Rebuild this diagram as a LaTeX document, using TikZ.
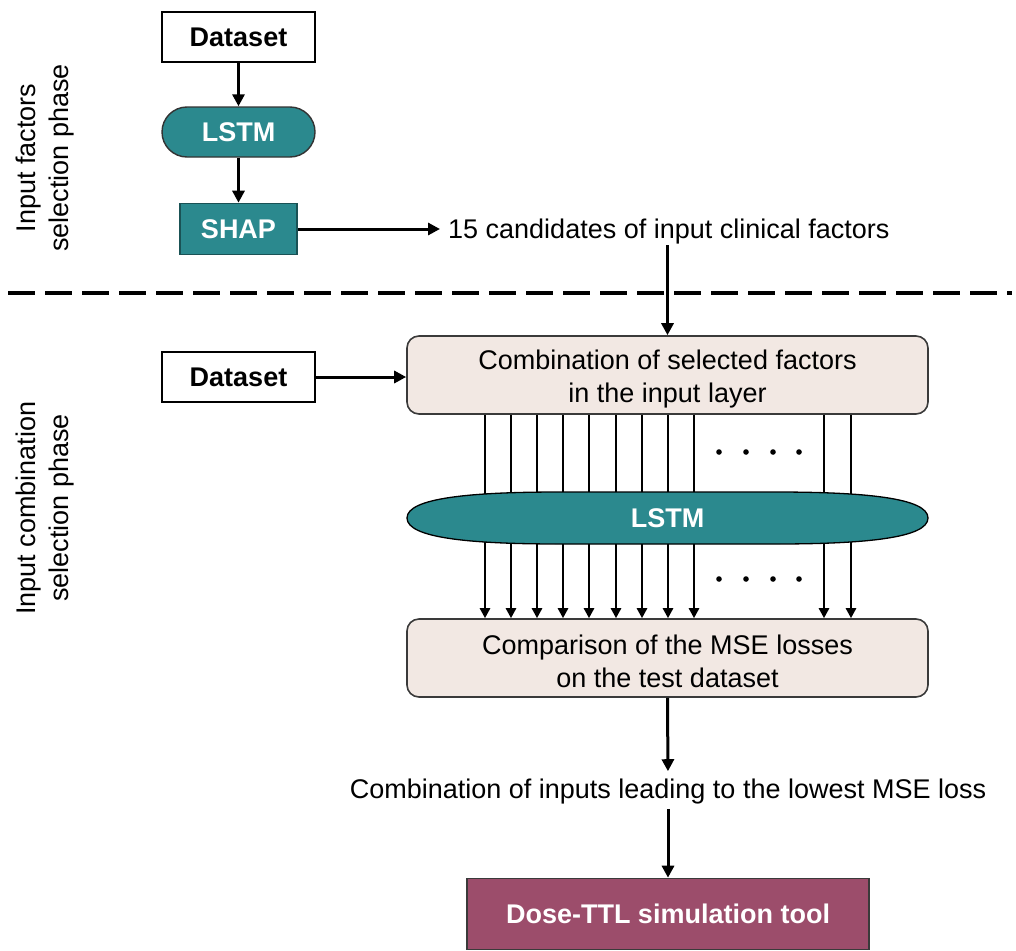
\documentclass[tikz,border=0pt]{standalone}
\usepackage{fontspec}
\setmainfont{Liberation Sans}
\usetikzlibrary{arrows.meta}
\definecolor{tealc}{HTML}{2B898E}
\definecolor{beigec}{HTML}{F2E8E3}
\definecolor{maroonc}{HTML}{9C4D6B}
\definecolor{edgec}{HTML}{3A3A3A}
\begin{document}
\begin{tikzpicture}[x=1pt,y=-1pt,
  txt/.style={font=\fontsize{27}{33}\selectfont, inner sep=0pt},
  boldtxt/.style={font=\fontsize{27}{33}\selectfont\bfseries, inner sep=0pt},
  arr/.style={line width=3pt,-{Triangle[length=12pt,width=12pt]}},
  netarr/.style={line width=2.8pt,-{Triangle[length=10pt,width=10pt]}},
  netline/.style={line width=2.8pt},
  databox/.style={boldtxt, draw=black, line width=1.4pt, fill=white, minimum width=153pt, minimum height=50pt},
  tealbox/.style={boldtxt, text=white, fill=tealc, minimum width=153pt, minimum height=50pt},
  procbox/.style={draw=edgec, line width=1.6pt, fill=beigec, rounded corners=12pt, minimum width=521pt, minimum height=78pt, inner sep=0pt},
  proctxt/.style={txt, align=center},
  phase/.style={txt, align=center, rotate=90}
]
\useasboundingbox (0,0) rectangle (1016,950);

% phase labels
\node[phase] (ph1) at (45,158) {Input factors\\selection phase};
\node[phase] (ph2) at (45,508) {Input combination\\selection phase};

% dashed separator
\coordinate (dl) at (8,293);
\coordinate (dr) at (1012,293);
\draw[line width=3.6pt, dash pattern=on 27pt off 10pt] (dl) -- (dr);

% upper phase
\node[databox] (ds1) at (238.5,37) {Dataset};
\node[tealbox, draw=black!80, line width=1.4pt, rounded corners=25pt] (lstm1) at (238.5,132) {LSTM};
\node[tealbox, draw=tealc!60!black, line width=1.6pt, minimum width=117pt, minimum height=51pt] (shap) at (238.5,229) {SHAP};
\node[txt, anchor=west] (cand) at (448,232) {15 candidates of input clinical factors};

\draw[arr] (ds1.south) -- (lstm1.north);
\draw[arr] (lstm1.south) -- (shap.north);
\draw[arr, shorten >=8pt] (shap.east) -- (shap.east -| cand.west);

% lower phase
\node[databox] (ds2) at (238.5,377) {Dataset};
\node[procbox] (comb) at (667.5,375) {};
\node[proctxt] (combt) at (667.5,379) {Combination of selected factors\\in the input layer};
\node[procbox] (comp) at (667.5,658) {};
\node[proctxt] (compt) at (667.5,661) {Comparison of the MSE losses\\on the test dataset};

\coordinate (candbot) at (667.5,245);
\draw[arr] (candbot) -- (comb.north);
\draw[arr] (ds2.east) -- (ds2.east -| comb.west);

% network lines
\coordinate (mid) at (667.5,518);
\foreach \x [count=\i] in {485,511,537,563,589,616,642,668,694,824,851} {
  \coordinate (n\i) at (\x,518);
  \draw[netline] (comb.south -| n\i) -- (n\i);
  \draw[netarr] (n\i) -- (comp.north -| n\i);
}
\foreach \x in {719,746,773,799} {
  \fill (\x,452) circle (2.8pt);
  \fill (\x,579) circle (2.8pt);
}

% LSTM flattened ellipse
\draw[fill=tealc, draw=black, line width=1.3pt]
  (407,518) .. controls (407,498) and (470,492) .. (560,492)
  -- (775,492) .. controls (865,492) and (928,498) .. (928,518)
  .. controls (928,538) and (865,544) .. (775,544)
  -- (560,544) .. controls (470,544) and (407,538) .. (407,518) -- cycle;
\node[boldtxt, text=white, minimum width=521pt, minimum height=52pt] (lstm2) at (mid) {LSTM};

% result
\node[txt] (res) at (668,792) {Combination of inputs leading to the lowest MSE loss};
\node[boldtxt, text=white, fill=maroonc, draw=edgec, line width=1.6pt, minimum width=402pt, minimum height=71pt] (tool) at (668,914) {Dose-TTL simulation tool};

\draw[arr, shorten >=8pt] (comp.south) -- (res.north);
\draw[arr, shorten <=4pt] (res.south) -- (tool.north);
\end{tikzpicture}
\end{document}
